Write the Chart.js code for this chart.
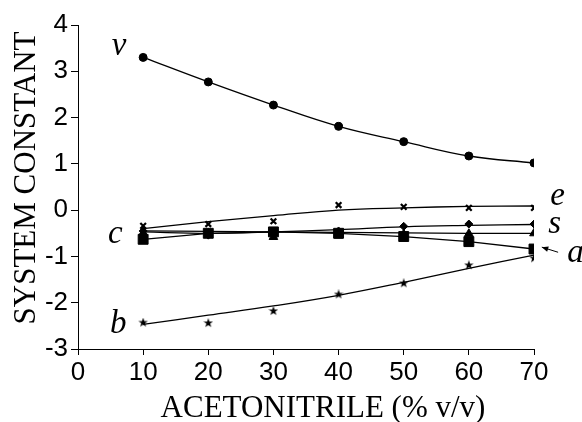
<!DOCTYPE html>
<html>
<head>
<meta charset="utf-8">
<script src="https://cdn.jsdelivr.net/npm/chart.js@4.4.1/dist/chart.umd.min.js"></script>
<style>
  html, body { margin: 0; padding: 0; background: #fff; }
  #wrap { width: 582px; height: 422px; }
</style>
</head>
<body>
<div id="wrap"><canvas id="chart"></canvas></div>
<script>
// % acetonitrile
const acn = [10, 20, 30, 40, 50, 60, 70];

// measured system constants
const vVals = [3.30, 2.77, 2.27, 1.81, 1.48, 1.17, 1.02];
const eVals = [-0.34, -0.30, -0.24, 0.11, 0.07, 0.05, 0.05];
const sVals = [-0.45, -0.54, -0.48, -0.45, -0.35, -0.30, -0.30];
const aVals = [-0.49, -0.50, -0.58, -0.55, -0.52, -0.51, -0.50];
const cVals = [-0.63, -0.50, -0.47, -0.50, -0.57, -0.68, -0.84];
const bVals = [-2.43, -2.44, -2.18, -1.82, -1.58, -1.19, -1.04];

// fitted curves
const eFit = [-0.40, -0.25, -0.12, 0.00, 0.05, 0.08, 0.09];
const sFit = [-0.47, -0.50, -0.47, -0.42, -0.36, -0.33, -0.31];
const aFit = [-0.45, -0.46, -0.47, -0.48, -0.49, -0.50, -0.50];
const bFit = [-2.47, -2.27, -2.07, -1.84, -1.56, -1.26, -0.97];

const xTickVals = [0, 10, 20, 30, 40, 50, 60, 70];
const yTickVals = [-3, -2, -1, 0, 1, 2, 3, 4];

function starImage(size) {
    var c = document.createElement("canvas");
    c.width = size;
    c.height = size;
    var g = c.getContext("2d");
    var R = size / 2, r = size / 5;
    g.beginPath();
    for (var i = 0; i < 10; i++) {
        var rad = i % 2 === 0 ? R : r;
        var ang = -Math.PI / 2 + i * Math.PI / 5;
        var px = R + rad * Math.cos(ang), py = R + rad * Math.sin(ang);
        if (i === 0) g.moveTo(px, py); else g.lineTo(px, py);
    }
    g.closePath();
    g.fillStyle = "#000";
    g.fill();
    return c;
}

function toXY(vals) {
    return acn.map(function (x, i) { return { x: x, y: vals[i] }; });
}

function points(vals, style, r, bw) {
    return {
        data: toXY(vals),
        showLine: false,
        pointStyle: style,
        pointRadius: r,
        pointBackgroundColor: "#000",
        pointBorderColor: "#000",
        pointBorderWidth: bw || 1,
    };
}

function curve(vals) {
    return {
        data: toXY(vals),
        pointRadius: 0,
        borderColor: "#000",
        borderWidth: 1.3,
        tension: 0.4,
        fill: false,
    };
}

// italic letters next to the curves (data coords, baseline-left)
const letters = [
    { t: "v", x: 5.2, y: 3.35 },
    { t: "c", x: 4.6, y: -0.71 },
    { t: "b", x: 4.9, y: -2.66 },
    { t: "e", x: 72.5, y: 0.11 },
    { t: "s", x: 72.2, y: -0.50 },
    { t: "a", x: 75.1, y: -1.12 },
];

const annotations = {
    id: "annotations",
    afterDraw: function (chart) {
        var ctx = chart.ctx;
        var xs = chart.scales.x, ys = chart.scales.y;
        ctx.save();
        ctx.fillStyle = "#000";
        ctx.strokeStyle = "#000";
        ctx.textBaseline = "alphabetic";
        ctx.textAlign = "left";
        ctx.font = "italic 33px 'Liberation Serif'";
        letters.forEach(function (l) {
            ctx.fillText(l.t, xs.getPixelForValue(l.x), ys.getPixelForValue(l.y));
        });

        // arrow pointing at the a curve
        var x1 = xs.getPixelForValue(73.7), y1 = ys.getPixelForValue(-0.91);
        var x2 = xs.getPixelForValue(71.2), y2 = ys.getPixelForValue(-0.80);
        ctx.lineWidth = 1;
        ctx.beginPath();
        ctx.moveTo(x1, y1);
        ctx.lineTo(x2, y2);
        ctx.stroke();
        var ang = Math.atan2(y2 - y1, x2 - x1);
        ctx.beginPath();
        ctx.moveTo(x2, y2);
        ctx.lineTo(x2 - 7 * Math.cos(ang - 0.4), y2 - 7 * Math.sin(ang - 0.4));
        ctx.lineTo(x2 - 7 * Math.cos(ang + 0.4), y2 - 7 * Math.sin(ang + 0.4));
        ctx.closePath();
        ctx.fill();

        // axis titles
        ctx.font = "31px 'Liberation Serif'";
        ctx.textAlign = "center";
        ctx.fillText("ACETONITRILE (% v/v)", 323, 417);
        ctx.translate(35, 178);
        ctx.rotate(-Math.PI / 2);
        ctx.fillText("SYSTEM CONSTANT", 0, 0);
        ctx.restore();
    },
};

const tickFont = { family: "'Liberation Sans', Arial", size: 26 };

new Chart(document.getElementById("chart").getContext("2d"), {
    type: "line",
    data: {
        datasets: [
            curve(vVals),
            curve(eFit),
            curve(sFit),
            curve(aFit),
            Object.assign(curve(cVals), { tension: 0 }),
            curve(bFit),
            points(vVals, "circle", 4),
            points(eVals, "crossRot", 4, 2.2),
            points(sVals, "rectRot", 4),
            points(aVals, "triangle", 5),
            points(cVals, "rect", 7),
            points(bVals, starImage(10), 5),
        ],
    },
    options: {
        responsive: true,
        maintainAspectRatio: false,
        animation: false,
        layout: { padding: { top: 25, right: 48, bottom: 0, left: 0 } },
        plugins: { legend: { display: false }, tooltip: { enabled: false } },
        scales: {
            x: {
                type: "linear",
                min: 0,
                max: 70,
                afterBuildTicks: function (s) { s.ticks = xTickVals.map(function (v) { return { value: v }; }); },
                afterFit: function (s) { s.height = 73; },
                grid: { drawOnChartArea: false, drawTicks: true, tickLength: 6, color: "#000" },
                border: { display: true, color: "#000", width: 1 },
                ticks: { color: "#000", font: tickFont, padding: 2, maxRotation: 0 },
            },
            y: {
                type: "linear",
                min: -3,
                max: 4,
                afterBuildTicks: function (s) { s.ticks = yTickVals.map(function (v) { return { value: v }; }); },
                afterFit: function (s) { s.width = 78; },
                grid: { drawOnChartArea: false, drawTicks: true, tickLength: 7, color: "#000" },
                border: { display: true, color: "#000", width: 1 },
                ticks: { color: "#000", font: tickFont, padding: 3 },
            },
        },
    },
    plugins: [annotations],
});
</script>
</body>
</html>
